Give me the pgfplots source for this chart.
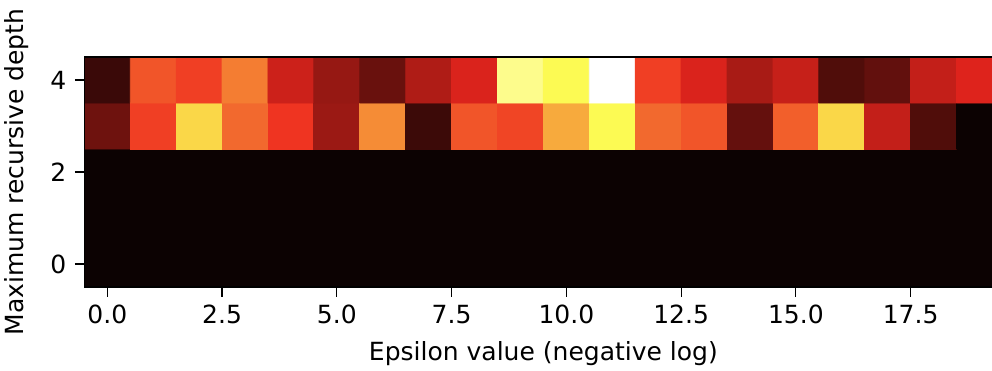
\documentclass[border=0pt]{standalone}
\usepackage{pgfplots}
\pgfplotsset{compat=1.18}
\usepackage{fontspec}
\setmainfont{DejaVu Sans}
\definecolor{hotzero}{RGB}{12,2,2}
\pgfplotstableread{
x y c
0 0 0
1 0 0
2 0 0
3 0 0
4 0 0
5 0 0
6 0 0
7 0 0
8 0 0
9 0 0
10 0 0
11 0 0
12 0 0
13 0 0
14 0 0
15 0 0
16 0 0
17 0 0
18 0 0
19 0 0
0 1 0
1 1 0
2 1 0
3 1 0
4 1 0
5 1 0
6 1 0
7 1 0
8 1 0
9 1 0
10 1 0
11 1 0
12 1 0
13 1 0
14 1 0
15 1 0
16 1 0
17 1 0
18 1 0
19 1 0
0 2 0
1 2 0
2 2 0
3 2 0
4 2 0
5 2 0
6 2 0
7 2 0
8 2 0
9 2 0
10 2 0
11 2 0
12 2 0
13 2 0
14 2 0
15 2 0
16 2 0
17 2 0
18 2 0
19 2 0
0 3 0.158
1 3 0.41
2 3 0.683
3 3 0.485
4 3 0.39
5 3 0.231
6 3 0.548
7 3 0.078
8 3 0.45
9 3 0.42
10 3 0.602
11 3 0.75
12 3 0.485
13 3 0.45
14 3 0.142
15 3 0.467
16 3 0.683
17 3 0.296
18 3 0.11
19 3 0
0 4 0.074
1 4 0.45
2 4 0.41
3 4 0.521
4 4 0.31
5 4 0.223
6 4 0.15
7 4 0.263
8 4 0.333
9 4 0.833
10 4 0.75
11 4 1.0
12 4 0.41
13 4 0.333
14 4 0.252
15 4 0.30
16 4 0.11
17 4 0.139
18 4 0.296
19 4 0.339
}\heat
\begin{document}
\fontsize{12.5}{15}\selectfont
\begin{tikzpicture}
\begin{axis}[
 at={(0,0)}, anchor=south west,
 scale only axis, width=459pt, height=115pt,
 xmin=-0.5, xmax=19.5, ymin=-0.5, ymax=4.5,
 enlargelimits=false,
 axis on top,
 axis background/.style={fill=hotzero},
 colormap={mplhot}{rgb255(0cm)=(12,2,2); rgb255(3.65079cm)=(238,38,30); rgb255(7.46032cm)=(252,250,80); rgb255(10cm)=(255,255,255)},
 point meta min=0, point meta max=1,
 xtick={0,2.5,5,7.5,10,12.5,15,17.5},
 ytick={0,2,4},
 xticklabel style={/pgf/number format/.cd, fixed, fixed zerofill, precision=1},
 /pgf/number format/assume math mode=true,
 tick align=outside, xtick pos=bottom, ytick pos=left,
 major tick length=4.75pt,
 tick style={black, line width=0.6pt},
 axis line style={line width=0.6pt},
 xlabel={Epsilon value (negative log)},
 ylabel={Maximum recursive depth},
 ticklabel style={font=\fontsize{12.5}{15}\selectfont},
 label style={font=\fontsize{12.5}{15}\selectfont},
 ylabel style={yshift=2pt},
]
\addplot[matrix plot*, mesh/cols=20, point meta=explicit] table[meta=c] {\heat};
\end{axis}
\pgfresetboundingbox
\path[use as bounding box] (-42.2pt,-41.5pt) rectangle (453.8pt,143.5pt);
\end{tikzpicture}
\end{document}
